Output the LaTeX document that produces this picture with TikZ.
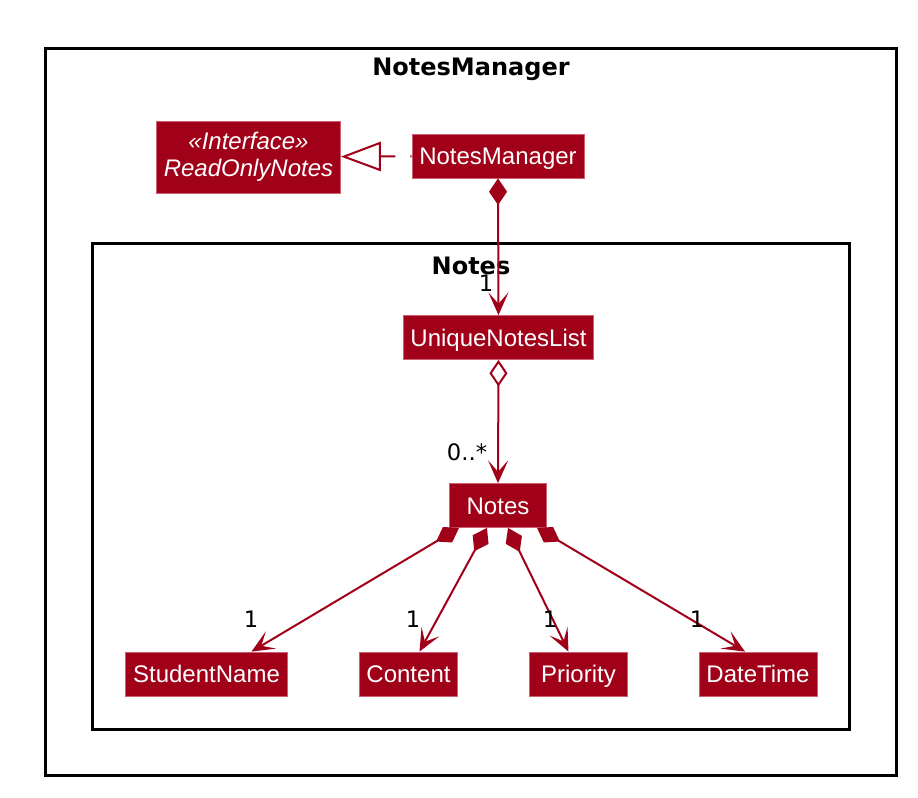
\documentclass[tikz,border=0pt]{standalone}
\usepackage{fontspec}
\setmainfont{Liberation Sans}
\newfontfamily\labelfont{DejaVu Sans}
\usetikzlibrary{arrows.meta,calc}
\definecolor{umlred}{RGB}{160,0,24}
\definecolor{umlborder}{RGB}{205,95,115}
\tikzset{
  cls/.style={fill=umlred, draw=umlborder, line width=0.6pt, text=white,
    font=\fontsize{18}{20}\selectfont, inner xsep=5.5pt, inner ysep=0pt,
    text height=15pt, text depth=2pt,
    minimum width=73pt, minimum height=33pt},
  link/.style={draw=umlred, line width=1.5pt},
  comp/.style={link, {Diamond[length=20pt,width=13.5pt]}-{Stealth[length=17pt,width=15pt,inset=8.5pt]}},
  aggr/.style={link, {Diamond[open,length=20pt,width=13.5pt,fill=white]}-{Stealth[length=17pt,width=15pt,inset=8.5pt]}},
  real/.style={link, dash pattern=on 11.25pt off 11.25pt, {Triangle[open,length=30pt,width=22pt,fill=white]}-},
  mult/.style={font=\labelfont\fontsize{17}{20}\selectfont, inner sep=0pt},
  pkgtitle/.style={font=\labelfont\bfseries\fontsize{18}{20}\selectfont, inner sep=0pt},
  pkg/.style={draw=black, line width=2.25pt},
}
\begin{document}
\begin{tikzpicture}[x=0.75pt,y=-0.75pt]
  \useasboundingbox (0,0) rectangle (918,798);
  % packages
  \draw[pkg] (45.5,48.5) rectangle (896,775);
  \node[pkgtitle] (mgrtitle) at (471,69) {NotesManager};
  \draw[pkg] (92.5,244) rectangle (849.5,729.5);
  \node[pkgtitle] (notestitle) at (471,266) {Notes};
  % classes
  \node[cls, align=center, text height=, text depth=, minimum height=54pt,
    font=\itshape\fontsize{18}{20}\selectfont]
    (iface) at (248.5,157) {«Interface»\\ReadOnlyNotes};
  \node[cls] (mgr) at (498,156) {NotesManager};
  \node[cls] (unl) at (498.5,337.5) {UniqueNotesList};
  \node[cls] (notes) at (498,505.5) {Notes};
  \node[cls] (sn) at (206.5,674) {StudentName};
  \node[cls] (content) at (408.5,674) {Content};
  \node[cls] (prio) at (578.5,674) {Priority};
  \node[cls] (dt) at (758,674) {DateTime};
  % relations
  \draw[real] (iface) -- (mgr);
  \draw[comp] (mgr.south) -- (unl.north);
  \draw[aggr] (unl.south) -- (notes.north);
  \draw[comp] ($(notes.south)+(-39,0)$) -- ($(sn.north)+(45,0)$);
  \draw[comp] ($(notes.south)+(-11,0)$) -- ($(content.north)+(11,0)$);
  \draw[comp] ($(notes.south)+(10,0)$) -- ($(prio.north)+(-10,0)$);
  \draw[comp] ($(notes.south)+(39,0)$) -- ($(dt.north)+(-13,0)$);
  % multiplicities
  \node[mult] (m0) at (486,283) {1};
  \node[mult] (m1) at (467,452) {0..*};
  \node[mult] (m2) at (251,619) {1};
  \node[mult] (m3) at (413,619) {1};
  \node[mult] (m4) at (550,619) {1};
  \node[mult] (m5) at (697,619) {1};
\end{tikzpicture}
\end{document}
